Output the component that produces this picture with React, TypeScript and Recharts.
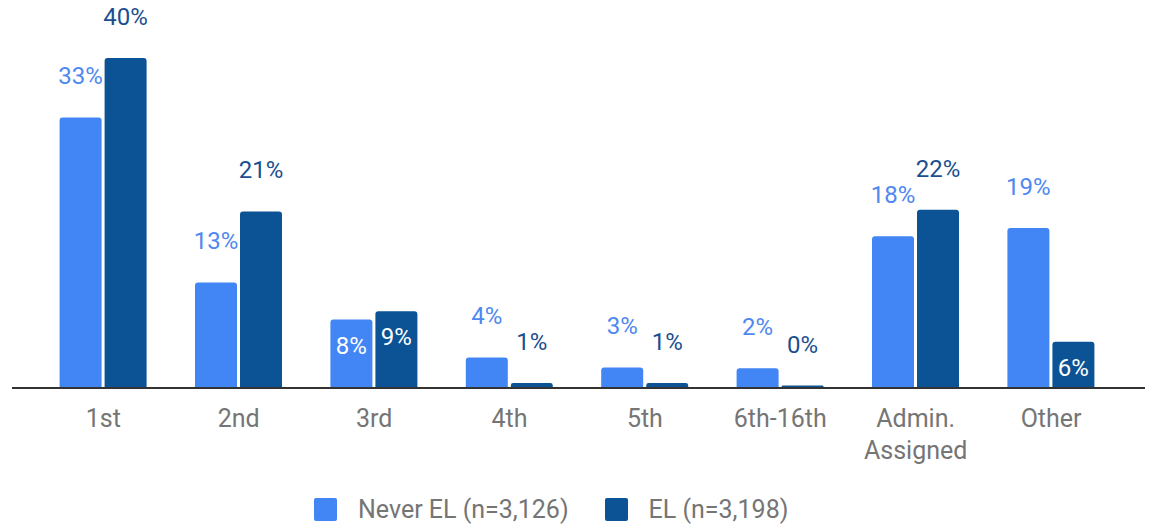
import { BarChart, Bar, XAxis, YAxis, Legend, LabelList } from 'recharts';

const categories = ['1st', '2nd', '3rd', '4th', '5th', '6th-16th', 'Admin.\nAssigned', 'Other'];
const neverEL = [32.8, 12.8, 8.3, 3.7, 2.5, 2.4, 18.4, 19.4];
const el = [40, 21.4, 9.3, 0.6, 0.6, 0.3, 21.6, 5.6];
const seriesNames = ['Never EL (n=3,126)', 'EL (n=3,198)'];

const data = categories.map((name, i) => ({ name, never: neverEL[i], el: el[i] }));

const LIGHT = '#4285f4';
const DARK = '#0b5394';
const FONT = 'Roboto, sans-serif';

// the source puts mid-size values inside the bar, the rest above it
const isInside = (v: number) => v >= 5 && v < 10;

function makeLabel(color: string) {
  return (p: any) => {
    const vb = p.viewBox ?? p;
    const x = Number(vb.x ?? p.x);
    const y = Number(vb.y ?? p.y);
    const w = Number(vb.width ?? p.width);
    const v = Number(p.value);
    const inside = isInside(v);
    return (
      <text
        x={x + w / 2}
        y={inside ? y + 34 : y - 33}
        textAnchor="middle"
        fontSize={24}
        fontFamily={FONT}
        fill={inside ? '#ffffff' : color}
      >
        {Math.round(v)}%
      </text>
    );
  };
}

function CategoryTick(props: any) {
  const { x, y, payload } = props;
  const lines = String(payload.value).split('\n');
  return (
    <text x={x} y={y + 31} textAnchor="middle" fontSize={25} fontFamily={FONT} fill="#757575">
      {lines.map((l, i) => (
        <tspan key={i} x={x} dy={i === 0 ? 0 : 32}>
          {l}
        </tspan>
      ))}
    </text>
  );
}

function LegendContent() {
  const colors = [LIGHT, DARK];
  return (
    <div style={{ height: 45, width: 1149, position: 'relative', fontFamily: FONT }}>
      <div style={{ position: 'absolute', top: 17, left: 314, display: 'flex', alignItems: 'center', height: 24 }}>
        {seriesNames.map((n, i) => (
          <div key={n} style={{ display: 'flex', alignItems: 'center', marginRight: 36 }}>
            <div style={{ width: 23, height: 23, borderRadius: 2, background: colors[i], marginRight: 21 }} />
            <span style={{ fontSize: 25, color: '#757575', whiteSpace: 'nowrap' }}>{n}</span>
          </div>
        ))}
      </div>
    </div>
  );
}

export default function App() {
  return (
    <div style={{ position: 'absolute', left: 0, top: 0, width: 1149, height: 525, background: '#fff' }}>
      <BarChart
        width={1149}
        height={525}
        data={data}
        margin={{ top: 58, right: 4, left: 12, bottom: 0 }}
        barSize={42}
        barGap={3}
      >
        <XAxis
          dataKey="name"
          tickLine={false}
          axisLine={{ stroke: '#333333', strokeWidth: 2 }}
          tick={<CategoryTick />}
          interval={0}
          height={92}
          padding={{ left: 23.6, right: 26.2 }}
        />
        <YAxis hide domain={[0, 40]} />
        <Legend
          verticalAlign="bottom"
          content={<LegendContent />}
          wrapperStyle={{ left: 0, width: 1149 }}
        />
        <Bar dataKey="never" name={seriesNames[0]} fill={LIGHT} radius={[3, 3, 0, 0]} isAnimationActive={false}>
          <LabelList dataKey="never" content={makeLabel('#4f88f0')} />
        </Bar>
        <Bar dataKey="el" name={seriesNames[1]} fill={DARK} radius={[3, 3, 0, 0]} isAnimationActive={false}>
          <LabelList dataKey="el" content={makeLabel('#1a4f8f')} />
        </Bar>
      </BarChart>
    </div>
  );
}
